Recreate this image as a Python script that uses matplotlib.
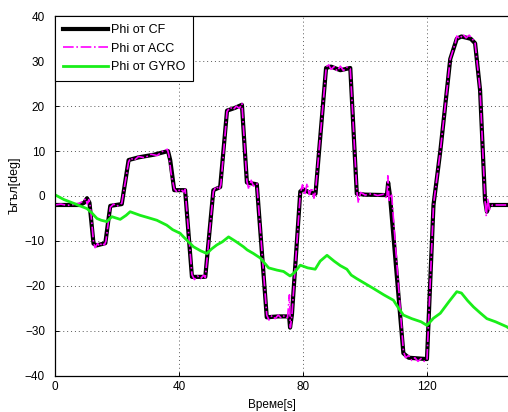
import matplotlib
matplotlib.use("Agg")
import matplotlib.pyplot as plt

plt.rcParams['font.family'] = ['Liberation Sans', 'DejaVu Sans']

# time [s] / angle [deg]
t_cf = [0, 8, 9.5, 10.4, 11.2, 12.5, 13.5, 16.3, 17.9, 21.6, 23.8, 27, 32, 36.5,
        37.2, 38.5, 42, 44.2, 48.5, 51.1, 53.3, 55.5, 58, 60.3, 61.9, 65.1, 68.3,
        72, 75.5, 75.8, 76.4, 79.1, 80, 82, 84, 87.4, 89, 92, 95.2, 97.3, 100, 107,
        107.4, 108, 112.3, 114, 119.9, 122, 124.2, 127.4, 129.5, 131, 134, 135.4,
        137, 138.6, 139.2, 140, 146]
phi_cf = [-2, -2, -1.5, -0.5, -1.5, -10.6, -11, -10.5, -2.2, -1.8, 8, 8.6, 9.2, 10,
          8, 1.3, 1.3, -18, -18, 1.3, 2, 19, 19.6, 20.3, 3, 2.6, -27,
          -26.8, -26.8, -29.3, -26.5, 1, 1.5, 0.8, 0.5, 28.5, 28.8, 28, 28.5, 0.5, 0.3, 0.2,
          3, 0, -35, -36, -36.3, -2, 10, 30.5, 35, 35.5, 35, 34,
          23.6, -1, -3.5, -2, -2]

t_acc = [0, 2, 4, 6, 8, 9, 10, 10.5, 11, 11.5, 12.5, 13, 13.8, 14.5, 15.2, 16, 16.5,
         17.9, 19, 20, 21.6, 23.8, 24.5, 25.5, 27, 29, 31, 33, 35, 36.3, 36.8, 37.5,
         38.5, 39.5, 40.5, 41.5, 42, 44.2, 45, 46, 47, 48, 48.5, 51.1, 52, 53, 53.5,
         55.5, 56.5, 57.5, 58.5, 59.5, 60.3, 61.9, 62.5, 63.3, 64, 65.1, 68.3, 69, 70,
         71, 72, 73, 74, 75, 75.6, 75.9, 76.4, 79.1, 79.8, 80.5, 81.3, 82, 82.8, 83.5,
         84, 87.4, 88, 89, 90, 91, 92, 93, 94, 95.2, 97.3, 97.8, 98.5, 100, 102, 104,
         106, 107, 107.3, 107.7, 108.5, 112.3, 113, 114, 115, 116, 117, 118, 119,
         119.9, 122, 124.2, 127.4, 129, 129.5, 130.5, 131.5, 132.5, 133.5, 134.5,
         135.4, 137, 138.6, 139, 139.5, 140, 141, 146]
phi_acc = [-2, -1.8, -2.1, -1.9, -1.6, -1.2, -0.6, -1.8, -0.8, -2.5, -10.3, -11.5,
           -10.6, -11.2, -10.4, -10.9, -10, -2.5, -1.8, -2.3, -1.6, 7.6, 8.5, 7.9, 8.8,
           8.5, 9.3, 9.0, 10.1, 10.4, 9, 5, 1.6, 0.8, 1.6, 0.9, 1.5, -17.5, -18.6, -17.8,
           -18.4, -17.6, -18.2, 1.0, 2.2, 1.4, 2.5, 18.8, 19.8, 19.2, 20, 19.5, 20.6, 3.3,
           1.5, 3.5, 2.2, 2.8, -26.5, -27.6, -26.6, -27.3, -26.5, -27.2, -26.6, -27.1,
           -22, -29.3, -26.5, 0.6, 2.5, 0.2, 2.8, 0.3, 1.8, -0.5, 1, 28.2, 29.5, 28.2,
           28.8, 27.8, 28.9, 27.9, 28.7, 28.3, 1.2, -1.5, 0.8, 0.2, 0.5, 0.1, 0.4, -0.5,
           4.5, -1, 0.5, -34.5, -36, -35.5, -36.6, -36, -36.8, -36.2, -36.8, -36.5, -2,
           10, 30.5, 34, 35.6, 35, 36, 35.2, 35.8, 35, 34, 23.6, -1, -4.5, -0.5, -3, -2, -2]

t_gyro = [0, 3, 6, 8.5, 10.4, 12, 13.6, 15, 16.8, 18.4, 21.1, 23, 24.3, 27.5, 30,
          32.9, 36.1, 38, 40.4, 41.5, 44.7, 47, 49, 50.5, 52.2, 54, 56, 58.5, 60.8,
          62, 64, 66.2, 68.9, 71.6, 73.7, 75.8, 77, 79.1, 81.5, 83.9, 85.5, 87.7, 90,
          92, 94.1, 95.5, 97.3, 100, 102.7, 106, 109.1, 110.5, 112.3, 115, 118, 119.9,
          122, 124.2, 127, 129.5, 131, 133, 134.9, 137, 139.2, 142, 145.6, 146]
phi_gyro = [0.3, -0.8, -1.6, -2.3, -2.8, -3.8, -5, -5.4, -5.7, -4.6, -5.2, -4.3, -3.5,
            -4.3, -4.8, -5.4, -6.5, -7.5, -8.3, -9.1, -11.3, -12.2, -12.8, -11.8, -10.9,
            -10.2, -9.1, -10.2, -11.3, -12, -12.8, -13.8, -16, -16.5, -16.8, -17.8, -17.2,
            -15.4, -16, -16.3, -14.5, -13.2, -14.5, -15.5, -16.3, -17.6, -18.4, -19.5,
            -20.6, -22, -23.2, -24.7, -26.5, -27.3, -28, -28.8, -27.2, -26.1, -23.5,
            -21.3, -21.6, -23.3, -24.7, -26, -27.3, -28, -29.1, -29.3]

x_ticks = [0, 40, 80, 120]
y_ticks = [-40, -30, -20, -10, 0, 10, 20, 30, 40]

fig = plt.figure(figsize=(5.08, 4.12), dpi=100)
ax = fig.add_axes([54.7 / 508, 36.3 / 412, 1 - 54.7 / 508, 359.4 / 412])

ax.plot(t_cf, phi_cf, color='black', lw=3.0, label='Phi от CF')
ax.plot(t_acc, phi_acc, color='#ff00ff', lw=1.2, ls='-.', label='Phi от ACC')
ax.plot(t_gyro, phi_gyro, color='#19ee19', lw=2.0, label='Phi от GYRO')

ax.set_xlim(0, 146)
ax.set_ylim(-40, 40)
ax.set_xticks(x_ticks)
ax.set_yticks(y_ticks)
ax.grid(True, color='0.35', ls=(0, (1, 3)), lw=0.7)
ax.tick_params(direction='in', length=3, labelsize=8.5, width=0.7)
ax.tick_params(axis='y', pad=7)
ax.tick_params(axis='x', pad=4)
ax.spines['right'].set_visible(False)
for s in ['left', 'top', 'bottom']:
    ax.spines[s].set_linewidth(0.9)

ax.set_xlabel('Време[s]', fontsize=8.5)
ax.xaxis.set_label_coords(0.48, -0.065)
ax.set_ylabel('Ъгъл[deg]', fontsize=9)
ax.yaxis.set_label_coords(-0.075, 0.53)

leg = ax.legend(loc='upper left', fontsize=9, fancybox=False, framealpha=1,
                edgecolor='black', borderaxespad=0, handlelength=3.6,
                handletextpad=0.25, labelspacing=0.5, borderpad=0.65)
leg.get_frame().set_linewidth(0.8)

fig.savefig('out.png', dpi=100)
